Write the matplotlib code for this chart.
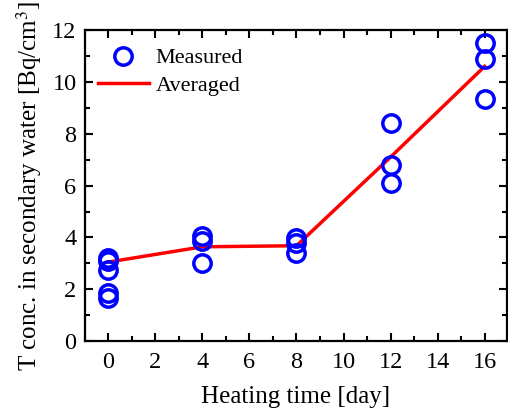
import matplotlib
matplotlib.use("Agg")
import matplotlib.pyplot as plt

plt.rcParams['font.family'] = 'Liberation Serif'
plt.rcParams['mathtext.fontset'] = 'stix'

# measured points
meas_x = [0, 0, 0, 0, 0, 4, 4, 4, 8, 8, 8, 12, 12, 12, 16, 16, 16]
meas_y = [3.2, 3.1, 2.75, 1.85, 1.65,
          4.05, 3.87, 3.03,
          3.98, 3.8, 3.39,
          8.42, 6.78, 6.11,
          11.49, 10.89, 9.33]

# averaged line
avg_x = [0, 4, 8, 12, 16]
avg_y = [3.05, 3.64, 3.68, 7.1, 10.6]

fig = plt.figure(figsize=(5.08, 4.12), dpi=100)
ax = fig.add_axes([0.167, 0.172, 0.831, 0.755])

ax.plot(avg_x, avg_y, color='red', lw=2.5, label='Averaged', zorder=2)
ax.plot(meas_x, meas_y, 'o', ms=12.5, mfc='none', mec='blue', mew=2.5,
        label='Measured', zorder=3)

ax.set_xlim(-1, 16.95)
ax.set_ylim(0, 12)
ax.set_xticks(range(0, 17, 2))
ax.set_xticks(range(-1, 17, 1), minor=True)
ax.set_yticks(range(0, 13, 2))
ax.set_yticks(range(0, 13, 1), minor=True)

ax.tick_params(which='both', direction='in', top=True, right=True, labelsize=17.5, width=1.5)
ax.tick_params(which='major', length=6, pad=6)
ax.tick_params(axis='x', which='major', pad=8)
ax.tick_params(which='minor', length=3.5)
for s in ax.spines.values():
    s.set_linewidth(1.6)

ax.set_xlabel('Heating time [day]', fontsize=18, labelpad=9)
ax.set_ylabel(r'T conc. in secondary water [Bq/cm$^3$]', fontsize=18, labelpad=6)

h, l = ax.get_legend_handles_labels()
ax.legend(h[::-1], l[::-1], loc='upper left', bbox_to_anchor=(-0.012, 1.0),
          frameon=False, fontsize=16,
          handlelength=2.3, handletextpad=0.3, borderaxespad=0.4,
          labelspacing=0.3)

fig.savefig('out.png', dpi=100)
